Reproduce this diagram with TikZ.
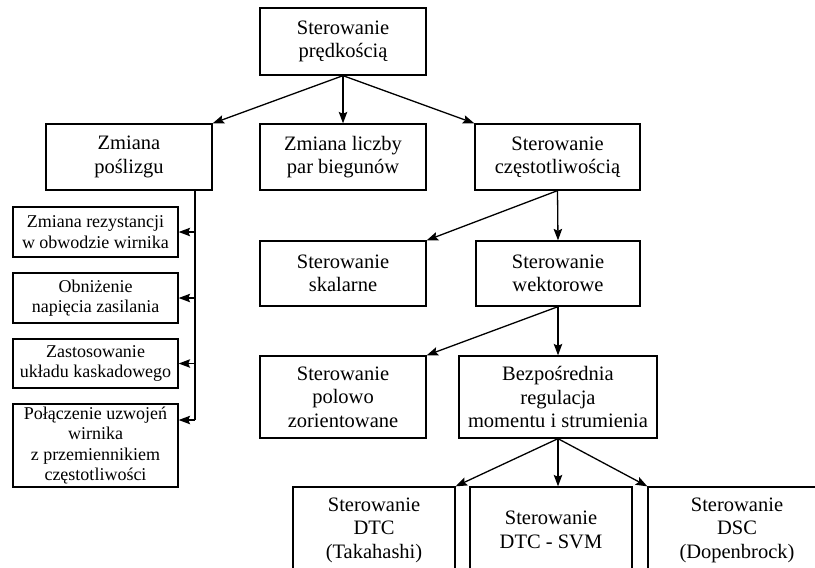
\documentclass[tikz,border=0pt]{standalone}
\usepackage{fontspec}
\setmainfont{Liberation Serif}
\usetikzlibrary{arrows.meta}
\tikzset{
  box/.style={draw, line width=1.3pt, align=center, inner sep=0pt,
    font=\fontsize{20.5}{23.5}\selectfont},
  sbox/.style={draw, line width=1.3pt, align=center, inner sep=0pt,
    minimum width=165pt, font=\fontsize{18}{20.5}\selectfont},
  arr/.style={line width=1.3pt, -{Stealth[length=11.5pt,width=8.5pt,inset=2pt]}},
  ln/.style={line width=1.3pt}
}
\begin{document}
\begin{tikzpicture}[x=1pt,y=-1pt]
\useasboundingbox (0,0) rectangle (815,568);
\clip (0,0) rectangle (815,568);
% top level
\node[box, minimum width=166pt, minimum height=67pt] (top) at (343,41.5) {Sterowanie\\prędkością};
\node[box, minimum width=166pt, minimum height=66pt] (posl) at (129,157) {Zmiana\\poślizgu};
\node[box, minimum width=166pt, minimum height=66pt] (par) at (343,157) {Zmiana liczby\\par biegunów};
\node[box, minimum width=165pt, minimum height=66pt] (czest) at (557.5,157) {Sterowanie\\częstotliwością};
% left column
\node[sbox, minimum height=50pt] (rez) at (95.5,232) {Zmiana rezystancji\\w obwodzie wirnika};
\node[sbox, minimum height=50pt] (obn) at (95.5,298) {Obniżenie\\napięcia zasilania};
\node[sbox, minimum height=49pt] (zast) at (95.5,363.5) {Zastosowanie\\układu kaskadowego};
\node[sbox, minimum height=83pt] (pol) at (95.5,445.5) {Połączenie uzwojeń\\wirnika\\z przemiennikiem\\częstotliwości};
% middle / right
\node[box, minimum width=166pt, minimum height=65pt] (skal) at (343,273.5) {Sterowanie\\skalarne};
\node[box, minimum width=164pt, minimum height=65pt] (wekt) at (558,273.5) {Sterowanie\\wektorowe};
\node[box, minimum width=166pt, minimum height=82pt] (polowo) at (343,397) {Sterowanie\\polowo\\zorientowane};
\node[box, minimum width=198pt, minimum height=82pt] (bezp) at (558,397) {Bezpośrednia\\regulacja\\momentu i strumienia};
\node[box, minimum width=162pt, minimum height=86pt] (tak) at (374,530) {Sterowanie\\DTC\\(Takahashi)};
\node[box, minimum width=162pt, minimum height=86pt] (svm) at (551,530) {Sterowanie\\DTC - SVM};
\node[box, minimum width=178pt, minimum height=86pt] (dsc) at (737,530) {Sterowanie\\DSC\\(Dopenbrock)};
% connectors
\draw[arr] (top.south) -- (par.north);
\draw[arr] (top.south) -- (posl.north east);
\draw[arr] (top.south) -- (czest.north west);
\draw[arr] (czest.south) -- (wekt.north);
\draw[arr] (czest.south) -- (skal.north east);
\draw[arr] (wekt.south) -- (bezp.north);
\draw[arr] (wekt.south) -- (polowo.north east);
\draw[arr] (bezp.south) -- (tak.north east);
\draw[arr] (bezp.south) -- (bezp.south |- svm.north);
\draw[arr] (bezp.south) -- (dsc.north west);
% left bus
\coordinate (pj) at (195,420);
\draw[ln] (posl.south -| pj) -- (pj);
\draw[arr] (rez.east -| pj) -- (rez.east);
\draw[arr] (obn.east -| pj) -- (obn.east);
\draw[arr] (zast.east -| pj) -- (zast.east);
\draw[arr] (pj) -- (pj -| pol.east);
\end{tikzpicture}
\end{document}
